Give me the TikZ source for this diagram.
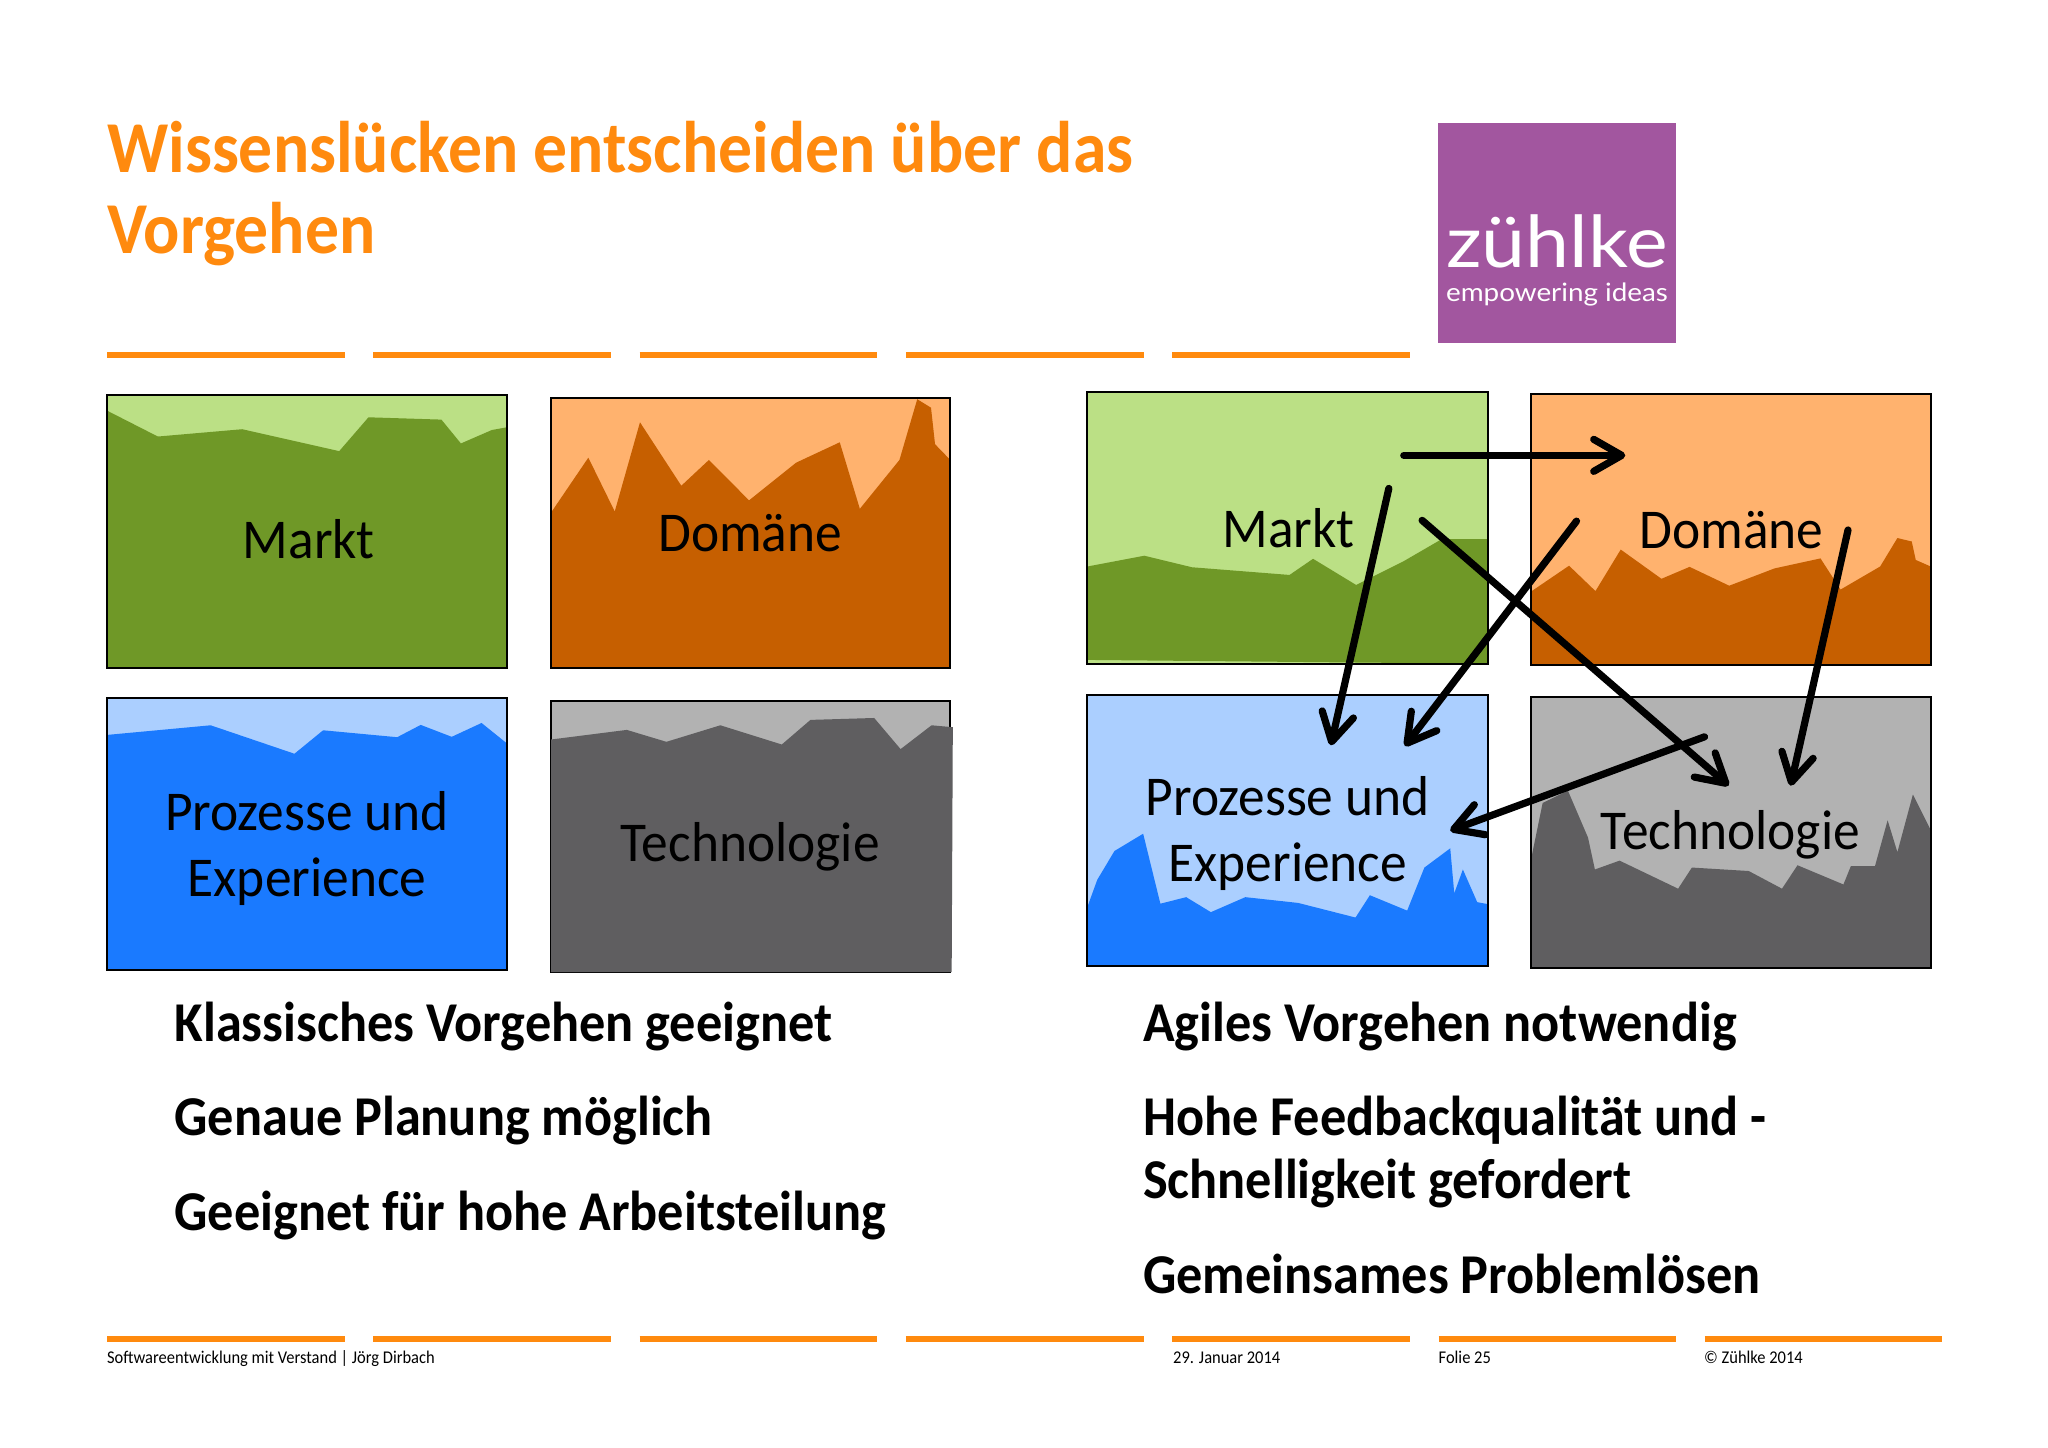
\documentclass[tikz,border=0pt]{standalone}
\usepackage{xcolor}
\usepackage{fontspec}
\usetikzlibrary{arrows.meta}
\setmainfont{Carlito}
\newfontfamily\titlefont{Carlito}[FakeStretch=0.925]
\newfontfamily\boxfont{Carlito}[FakeStretch=0.95]
\newfontfamily\bodyfont{Carlito}[FakeStretch=0.93]
\newfontfamily\footfont{Carlito}[FakeStretch=0.92]
\newfontfamily\logofont{Lato}[FakeStretch=1.1]
\definecolor{folieorange}{HTML}{FF8A0E}
\definecolor{logopurple}{HTML}{A2569F}
\definecolor{marktlight}{HTML}{BBE085}
\definecolor{marktdark}{HTML}{6F9827}
\definecolor{domaenelight}{HTML}{FFB26E}
\definecolor{domaenedark}{HTML}{C65F00}
\definecolor{prozesslight}{HTML}{ABCFFF}
\definecolor{prozessdark}{HTML}{1A7AFF}
\definecolor{techlight}{HTML}{B2B2B2}
\definecolor{techdark}{HTML}{5F5E60}
\tikzset{
    frame/.style={draw=black,line width=0.1cm},
    zoomgrid/.style={x=0.028708cm,y=-0.019231cm},
    rule/.style={draw=folieorange,line width=0.28cm},
    titletext/.style={anchor=base west,inner sep=0,text=folieorange,font=\titlefont\fontsize{104}{120}\selectfont\bfseries},
    boxtext/.style={align=center,inner sep=0,font=\boxfont\fontsize{80}{93}\selectfont},
    bodytext/.style={anchor=base west,inner sep=0,font=\bodyfont\fontsize{80}{90}\selectfont\bfseries},
    foottext/.style={anchor=base west,inner sep=0,font=\footfont\fontsize{25.5}{28}\selectfont},
    pointer/.style={-{Straight Barb[length=1.4cm,width=1.6cm,round]},line width=0.36cm,line cap=round},
}
\begin{document}
\begin{tikzpicture}[x=0.05cm,y=-0.05cm]
    \useasboundingbox[fill=white] (0,0) rectangle (2048,1447);
    % title and logo
    \node[titletext] (title1) at (107,172) {Wissenslücken entscheiden über das};
    \node[titletext] (title2) at (107,253) {Vorgehen};
    \fill[logopurple] (1438,123) rectangle (1676,343);
    \node[text=white,inner sep=0,font=\logofont\fontsize{102}{110}\selectfont] (logo1) at (1557,241) {zühlke};
    \node[text=white,inner sep=0,font=\logofont\fontsize{36}{42}\selectfont] (logo2) at (1557,294) {empowering ideas};
    % rules
    \foreach \i in {0,...,4} {
        \draw[rule] (107+\i*266.3,354.7) -- (344.6+\i*266.3,354.7);
    }
    \foreach \i in {0,...,6} {
        \draw[rule] (107+\i*266.3,1339) -- (344.6+\i*266.3,1339);
    }
    % left group
    \begin{scope}[shift={(90.1,380)},zoomgrid]
        \fill[marktlight] (30,40) rectangle (726,748);
        \fill[marktdark] (30,80) -- (118,147) -- (265,128) -- (434,185) -- (485,97) -- (612,103) -- (646,165) -- (700,130) -- (726,123) -- (726,748) -- (30,748) -- cycle;
        \draw[frame] (30,40) rectangle (726,748);
        \node[boxtext] (marktL) at (381,413) {Markt};
        \fill[domaenelight] (803,46) rectangle (1498,750);
        \fill[domaenedark] (803,345) -- (868,202) -- (914,342) -- (958,110) -- (1030,275) -- (1078,208) -- (1148,313) -- (1230,215) -- (1306,162) -- (1341,335) -- (1410,208) -- (1441,50) -- (1465,72) -- (1472,167) -- (1498,207) -- (1498,750) -- (803,750) -- cycle;
        \draw[frame] (803,46) rectangle (1498,750);
        \node[boxtext] (domaeneL) at (1150,398) {Domäne};
        \fill[prozesslight] (30,828) rectangle (726,1534);
        \fill[prozessdark] (30,923) -- (210,898) -- (356,972) -- (406,911) -- (535,929) -- (576,897) -- (630,928) -- (682,892) -- (726,945) -- (726,1534) -- (30,1534) -- cycle;
        \draw[frame] (30,828) rectangle (726,1534);
        \node[boxtext] (prozessL) at (378,1218) {Prozesse und\\Experience};
        \fill[techlight] (803,834) rectangle (1498,1540);
        \draw[frame] (803,834) rectangle (1498,1540);
        \fill[techdark] (803,935) -- (935,910) -- (1004,941) -- (1098,898) -- (1205,948) -- (1255,884) -- (1366,879) -- (1412,960) -- (1466,898) -- (1503,903) -- (1501,1540) -- (803,1540) -- cycle;
        \node[boxtext] (techL) at (1150,1214) {Technologie};
    \end{scope}
    % right group
    \begin{scope}[shift={(1080,380)},zoomgrid]
        \fill[marktlight] (13,30) rectangle (710,738);
        \fill[marktdark] (13,485) -- (112,457) -- (195,487) -- (365,507) -- (406,465) -- (481,533) -- (563,472) -- (630,414) -- (710,414) -- (710,738) -- (13,728) -- cycle;
        \draw[frame] (13,30) rectangle (710,738);
        \node[boxtext] (marktR) at (363,385) {Markt};
        \fill[domaenelight] (786,37) rectangle (1482,742);
        \fill[domaenedark] (786,550) -- (852,483) -- (898,549) -- (942,441) -- (1013,517) -- (1062,486) -- (1131,535) -- (1210,490) -- (1290,464) -- (1325,545) -- (1394,485) -- (1424,411) -- (1449,420) -- (1456,468) -- (1482,485) -- (1482,742) -- (786,742) -- cycle;
        \draw[frame] (786,37) rectangle (1482,742);
        \node[boxtext] (domaeneR) at (1135,390) {Domäne};
        \fill[prozesslight] (13,818) rectangle (710,1524);
        \fill[prozessdark] (13,1370) -- (30,1300) -- (60,1225) -- (110,1180) -- (140,1362) -- (185,1345) -- (228,1384) -- (288,1345) -- (380,1360) -- (480,1398) -- (505,1340) -- (570,1380) -- (600,1268) -- (645,1218) -- (652,1335) -- (667,1273) -- (692,1358) -- (710,1363) -- (710,1524) -- (13,1524) -- cycle;
        \draw[frame] (13,818) rectangle (710,1524);
        \node[boxtext] (prozessR) at (362,1179) {Prozesse und\\Experience};
        \fill[techlight] (786,825) rectangle (1482,1530);
        \fill[techdark] (786,1245) -- (806,1100) -- (850,1068) -- (885,1190) -- (897,1273) -- (940,1250) -- (1042,1323) -- (1066,1268) -- (1165,1277) -- (1223,1323) -- (1250,1262) -- (1330,1312) -- (1343,1264) -- (1385,1264) -- (1407,1145) -- (1424,1228) -- (1451,1078) -- (1482,1170) -- (1482,1530) -- (786,1530) -- cycle;
        \draw[frame] (786,825) rectangle (1482,1530);
        \node[boxtext] (techR) at (1133,1184) {Technologie};
        % arrows between the boxes
        \coordinate (md1) at (564,196);
        \coordinate (md2) at (950,196);
        \coordinate (mp1) at (538,282);
        \coordinate (mp2) at (437,950);
        \coordinate (mt1) at (596,365);
        \coordinate (mt2) at (1130,1055);
        \coordinate (dp1) at (865,367);
        \coordinate (dp2) at (566,952);
        \coordinate (dt1) at (1338,390);
        \coordinate (dt2) at (1238,1055);
        \coordinate (tp1) at (1088,928);
        \coordinate (tp2) at (645,1172);
        \draw[pointer] (md1) -- (md2);
        \draw[pointer] (mp1) -- (mp2);
        \draw[pointer] (mt1) -- (mt2);
        \draw[pointer] (dp1) -- (dp2);
        \draw[pointer] (dt1) -- (dt2);
        \draw[pointer] (tp1) -- (tp2);
    \end{scope}
    % lists
    \node[bodytext] (klass1) at (174.5,1041) {Klassisches Vorgehen geeignet};
    \node[bodytext] (klass2) at (174.5,1135) {Genaue Planung möglich};
    \node[bodytext] (klass3) at (174.5,1230) {Geeignet für hohe Arbeitsteilung};
    \node[bodytext] (agil1) at (1143,1041) {Agiles Vorgehen notwendig};
    \node[bodytext] (agil2) at (1143,1135) {Hohe Feedbackqualität und -};
    \node[bodytext] (agil3) at (1143,1198) {Schnelligkeit gefordert};
    \node[bodytext] (agil4) at (1143,1293) {Gemeinsames Problemlösen};
    % footer
    \node[foottext] (foot1) at (107,1363) {Softwareentwicklung mit Verstand | Jörg Dirbach};
    \node[foottext] (foot2) at (1173,1363) {29. Januar 2014};
    \node[foottext] (foot3) at (1438.5,1363) {Folie 25};
    \node[foottext] (foot4) at (1704,1363) {© Zühlke 2014};
\end{tikzpicture}
\end{document}
